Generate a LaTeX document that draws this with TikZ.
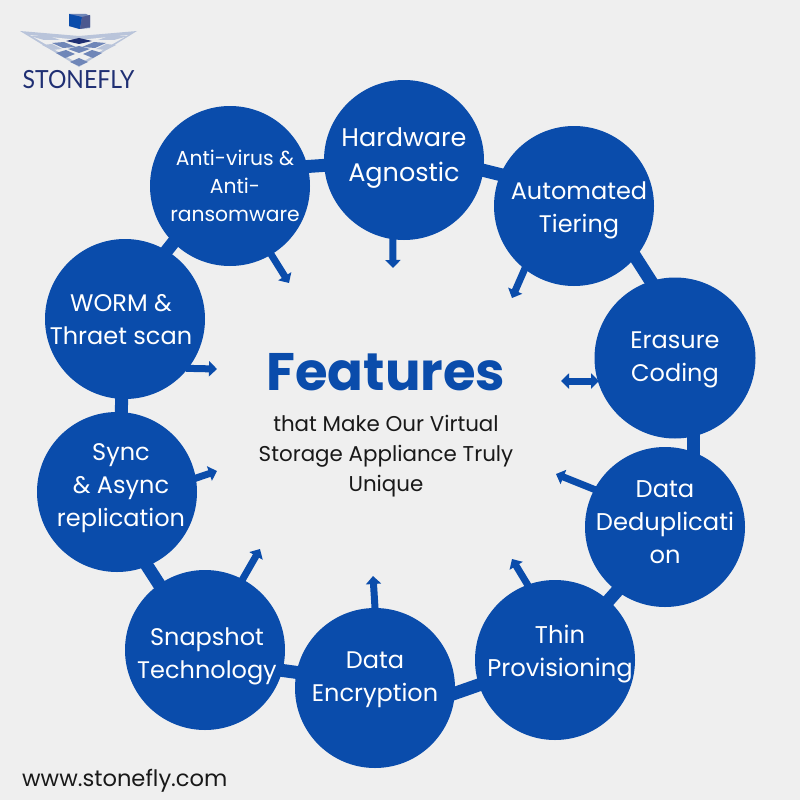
\documentclass[tikz,border=0pt]{standalone}
\usepackage{fontspec}
\setmainfont{Poppins}
\newfontfamily\logofont{Lato}
\usetikzlibrary{arrows.meta,backgrounds,calc}
\definecolor{fblue}{HTML}{0A4CAB}
\definecolor{bgc}{HTML}{EFEFEF}
\definecolor{lnavy}{HTML}{1F2F73}
\definecolor{lmid}{HTML}{6F86B8}
\definecolor{lpale}{HTML}{B9C4DA}
\tikzset{
  feat/.style={circle,fill=fblue,minimum size=160pt,inner sep=0pt},
  ftext/.style={text=white,inner sep=0pt,align=center,font=\fontsize{24.2}{33}\selectfont},
  link/.style={draw=fblue,line width=13pt},
  arw/.style={draw=fblue,line width=7pt,-{Triangle[length=8pt,width=15pt]},shorten <=-2pt},
  arwb/.style={draw=fblue,line width=7pt,{Triangle[length=8pt,width=15pt]}-{Triangle[length=8pt,width=15pt]}},
  tile/.style={fill=lmid,draw=none},
}
\begin{document}
\begin{tikzpicture}[x=1pt,y=-1pt]
\useasboundingbox (0,0) rectangle (800,800);
% logo
\fill[lpale] (20,31) -- (79,36) -- (137,31) -- (79,67) -- (75,64) -- (104,44) -- (125,35) -- (79,42) -- (33,35) -- (54,44) -- (83,64) -- (79,67) -- cycle;
\fill[bgc] (30,35) -- (79,40) -- (128,35) -- (79,64) -- cycle;
\fill[lnavy] (66,41) -- (79,38) -- (92,41) -- (79,44) -- cycle;
\fill[lmid] (69,14) -- (86,14) -- (90,16) -- (90,28) -- (79,29) -- (69,26) -- cycle;
\fill[fblue] (69,14) -- (82,17) -- (80,29) -- (69,26) -- cycle;
\fill[lnavy!80] (82,17) -- (90,15) -- (90,27) -- (80,29) -- cycle;
\fill[tile] (52,43) -- (64,42) -- (76,47) -- (63,48) -- cycle;
\fill[tile] (106,43) -- (94,42) -- (82,47) -- (95,48) -- cycle;
\fill[lpale] (30,36) -- (46,35) -- (60,40) -- (44,40) -- cycle;
\fill[lpale] (128,36) -- (112,35) -- (98,40) -- (114,40) -- cycle;
\fill[tile] (68,49) -- (79,46) -- (90,49) -- (79,53) -- cycle;
\fill[lpale] (42,45) -- (52,44) -- (62,49) -- (52,50) -- cycle;
\fill[lpale] (116,45) -- (106,44) -- (96,49) -- (106,50) -- cycle;
\fill[tile] (56,53) -- (66,50) -- (75,54) -- (65,58) -- cycle;
\fill[tile] (102,53) -- (92,50) -- (83,54) -- (93,58) -- cycle;
\fill[tile] (70,62) -- (79,58) -- (88,62) -- (79,66) -- cycle;
\node[text=lnavy,font=\logofont\fontsize{25}{25}\selectfont,inner sep=0pt,xscale=.92,transform shape] (logo) at (78.5,80) {STONEFLY};
% circles
\node[feat,label={[ftext,yshift=2pt,font=\fontsize{25.5}{35}\selectfont]center:{Hardware\\Agnostic}}] (hw) at (404,160) {};
\node[feat,label={[ftext,yshift=-4pt,xshift=5pt,font=\fontsize{24}{33}\selectfont]center:{Automated\\Tiering}}] (au) at (574,206) {};
\node[feat,minimum size=161pt,label={[ftext,yshift=-2pt,font=\fontsize{24}{33}\selectfont]center:{Erasure\\Coding}}] (er) at (675,358) {};
\node[feat,label={[ftext,yshift=5pt]center:{Data\\Deduplicati\\on}}] (dd) at (665,527) {};
\node[feat,label={[ftext,yshift=6pt,xshift=5pt]center:{Thin\\Provisioning}}] (th) at (555,660) {};
\node[feat,label={[ftext,yshift=8pt,font=\fontsize{24}{33}\selectfont]center:{Data\\Encryption}}] (en) at (375,688) {};
\node[feat,label={[ftext,yshift=-6pt,xshift=2pt,font=\fontsize{24}{33}\selectfont]center:{Snapshot\\Technology}}] (sn) at (205,650) {};
\node[feat,label={[ftext,yshift=4pt,xshift=4pt,font=\fontsize{24}{33}\selectfont]center:{Sync\\\&~Async\\replication}}] (sy) at (117,492) {};
\node[feat,label={[ftext,yshift=-1pt,xshift=-4pt,font=\fontsize{24}{33}\selectfont]center:{WORM \&\\Thraet scan}}] (wo) at (125,319) {};
\node[feat,label={[ftext,xshift=5pt,font=\fontsize{20.3}{28}\selectfont]center:{Anti-virus \&\\Anti-\\ransomware}}] (an) at (230,186) {};
% links
\begin{scope}[on background layer]
\fill[bgc] (0,0) rectangle (800,800);
\draw[link] ($(hw)+(36,-0.5)$) -- ($(au)+(-34,-21.5)$);
\draw[link] ($(au)+(46,27)$) -- ($(er)+(-7,-50)$);
\draw[link] ($(er)+(18,42)$) -- ($(dd)+(28,-37)$);
\draw[link] ($(dd)+(-25,38)$) -- ($(th)+(31,-34)$);
\draw[link] ($(th)+(-45,14)$) -- ($(en)+(55,14)$);
\draw[link] ($(en)+(-45,-11)$) -- ($(sn)+(45,16)$);
\draw[link] ($(sn)+(-30,-41)$) -- ($(sy)+(18,55)$);
\draw[link] ($(sy)+(4,-42)$) -- ($(wo)+(-3,41)$);
\draw[link] ($(wo)+(25,-47)$) -- ($(an)+(-35,29)$);
\draw[link] ($(an)+(40,-17)$) -- ($(hw)+(-44,3)$);
\end{scope}
% arrows
\coordinate (hwe) at (393,268);
\coordinate (aue) at (512,298);
\coordinate (ere) at (561,381);
\coordinate (dde) at (556,474);
\coordinate (the) at (512,559);
\coordinate (ene) at (373,576);
\coordinate (sne) at (260,549);
\coordinate (sye) at (217,471);
\coordinate (woe) at (217,369);
\coordinate (ane) at (289,283);
\draw[arw] (hw.-98) -- (hwe);
\draw[arw] (au.-128) -- (aue);
\draw[arwb] (599,381) -- (ere);
\draw[arw] (dd.152) -- (dde);
\draw[arw] (th.110) -- (the);
\draw[arw] (en.90) -- (ene);
\draw[arw] (sn.62) -- (sne);
\draw[arw] (sy.10) -- (sye);
\draw[arw] (wo.-38) -- (woe);
\draw[arw] (an.-59) -- (ane);
% centre
\node[text=fblue,font=\bfseries\fontsize{52.8}{55}\selectfont,inner sep=0pt] (title) at (386,372) {Features};
\node[text=black!90,font=\fontsize{21.4}{30}\selectfont,align=center,inner sep=0pt] (sub) at (386,456) {that Make Our Virtual\\Storage Appliance Truly\\Unique};
\node[text=black!90,font=\fontsize{22.6}{24}\selectfont,anchor=west,inner sep=0pt] (web) at (22,781) {www.stonefly.com};
\end{tikzpicture}
\end{document}
